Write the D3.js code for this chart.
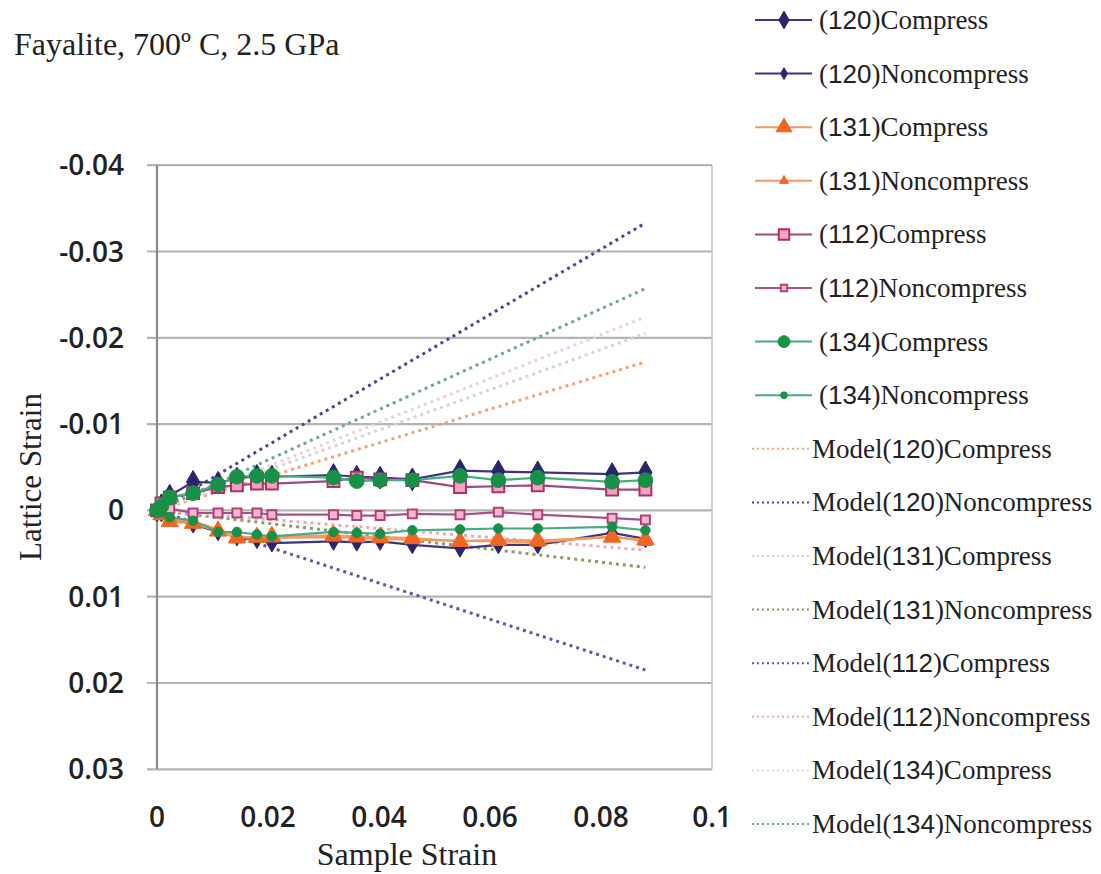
<!DOCTYPE html>
<html><head><meta charset="utf-8">
<script src="https://cdn.jsdelivr.net/npm/d3@7"></script>
<style>html,body{margin:0;padding:0;background:#fff;}svg{display:block;}</style>
</head><body>
<svg id="c" width="1101" height="874"></svg>
<script>
// ---------- DATA ----------
const sampleStrain = [0, 0.0008, 0.0023, 0.0065, 0.011, 0.0144, 0.018, 0.0207, 0.0318, 0.036, 0.0402, 0.046, 0.0546, 0.0615, 0.0686, 0.082, 0.088];
const c120 = [0, -0.0006, -0.0017, -0.0033, -0.0032, -0.0037, -0.0040, -0.0039, -0.0041, -0.0039, -0.0038, -0.0036, -0.0046, -0.0045, -0.0044, -0.0042, -0.0044];
const n120 = [0, 0.0003, 0.0009, 0.0016, 0.0025, 0.0031, 0.0034, 0.0038, 0.0036, 0.0037, 0.0036, 0.0040, 0.0044, 0.0040, 0.0040, 0.0026, 0.0033];
const c131 = [0, 0.0005, 0.0013, 0.0015, 0.0024, 0.0032, 0.0031, 0.0030, 0.0029, 0.0030, 0.0031, 0.0032, 0.0036, 0.0034, 0.0035, 0.0031, 0.0034];
const n131 = [0, 0.0006, 0.0010, 0.0013, 0.0022, 0.0030, 0.0032, 0.0032, 0.0031, 0.0032, 0.0033, 0.0034, 0.0035, 0.0036, 0.0037, 0.0030, 0.0036];
const c112 = [0, -0.0008, -0.0015, -0.0020, -0.0027, -0.0029, -0.0031, -0.0031, -0.0034, -0.0038, -0.0036, -0.0035, -0.0027, -0.0028, -0.0029, -0.0024, -0.0024];
const n112 = [0, -0.0003, -0.0002, 0.0003, 0.0003, 0.0003, 0.0003, 0.0005, 0.0005, 0.0006, 0.0006, 0.0004, 0.0005, 0.0002, 0.0005, 0.0009, 0.0011];
const c134 = [0, -0.0005, -0.0015, -0.0020, -0.0030, -0.0039, -0.0040, -0.0040, -0.0038, -0.0034, -0.0035, -0.0035, -0.0040, -0.0035, -0.0038, -0.0033, -0.0035];
const n134 = [0, 0.0002, 0.0008, 0.0012, 0.0025, 0.0025, 0.0028, 0.0030, 0.0025, 0.0026, 0.0027, 0.0023, 0.0022, 0.0021, 0.0021, 0.0019, 0.0023];

// model lines: start and end points
const modelX = [0, 0.088];
const m120c = [0, -0.0172];
const m120n = [0, -0.0333];
const m131c = [0, -0.0205];
const m131n = [0, 0.0066];
const m112c = [0, 0.0185];
const m112n = [0, 0.0046];
const m134c = [0, -0.0224];
const m134n = [0, -0.0257];

const yTicks = [-0.04, -0.03, -0.02, -0.01, 0, 0.01, 0.02, 0.03];
const yTickLabels = ["-0.04", "-0.03", "-0.02", "-0.01", "0", "0.01", "0.02", "0.03"];
const xTicks = [0, 0.02, 0.04, 0.06, 0.08, 0.1];
const xTickLabels = ["0", "0.02", "0.04", "0.06", "0.08", "0.1"];

const title = "Fayalite, 700º C, 2.5 GPa";
const xTitle = "Sample Strain";
const yTitle = "Lattice Strain";

// ---------- SERIES STYLE ----------
const dataSeries = [
  {hkl:"120", kind:"Compress", v:c120, line:"#3b3584", fill:"#2b2570", stroke:"#2b2570", shape:d3.symbolDiamond, size:150, lsize:90},
  {hkl:"120", kind:"Noncompress", v:n120, line:"#3b3584", fill:"#2b2570", stroke:"#2b2570", shape:d3.symbolDiamond, size:90, lsize:40},
  {hkl:"131", kind:"Compress", v:c131, line:"#f59a5e", fill:"#f26522", stroke:"#f26522", shape:d3.symbolTriangle, size:130, lsize:110},
  {hkl:"131", kind:"Noncompress", v:n131, line:"#f59a5e", fill:"#f26522", stroke:"#f26522", shape:d3.symbolTriangle, size:80, lsize:35},
  {hkl:"112", kind:"Compress", v:c112, line:"#9b4a7c", fill:"#f3a1c4", stroke:"#b0305f", shape:d3.symbolSquare, size:140, lsize:110},
  {hkl:"112", kind:"Noncompress", v:n112, line:"#a65384", fill:"#f6b6d0", stroke:"#b0407a", shape:d3.symbolSquare, size:80, lsize:40},
  {hkl:"134", kind:"Compress", v:c134, line:"#48ab86", fill:"#179147", stroke:"#179147", shape:d3.symbolCircle, size:170, lsize:110},
  {hkl:"134", kind:"Noncompress", v:n134, line:"#48ab86", fill:"#179147", stroke:"#179147", shape:d3.symbolCircle, size:70, lsize:35}
];
const modelSeries = [
  {hkl:"120", kind:"Compress", v:m120c, color:"#f7a272"},
  {hkl:"120", kind:"Noncompress", v:m120n, color:"#4a4790"},
  {hkl:"131", kind:"Compress", v:m131c, color:"#d4d4d4"},
  {hkl:"131", kind:"Noncompress", v:m131n, color:"#8f9a6a"},
  {hkl:"112", kind:"Compress", v:m112c, color:"#5a58b0"},
  {hkl:"112", kind:"Noncompress", v:m112n, color:"#f2a8b0"},
  {hkl:"134", kind:"Compress", v:m134c, color:"#f1d2d2"},
  {hkl:"134", kind:"Noncompress", v:m134n, color:"#6fa890"}
];

// ---------- DRAW ----------
const svg = d3.select("#c");
const x = d3.scaleLinear().domain([0, 0.1]).range([157, 712]);
const y = d3.scaleLinear().domain([-0.04, 0.03]).range([165.2, 769.3]);

const serif = "'Liberation Serif','Times New Roman',serif";
const sans = "'Open Sans','Liberation Sans',sans-serif";

// gridlines
svg.append("g").selectAll("line").data(yTicks).join("line")
  .attr("x1", x(0) - 10).attr("x2", x(0.1))
  .attr("y1", d => y(d)).attr("y2", d => y(d))
  .attr("stroke", "#b4b4b4").attr("stroke-width", 2.2);
// left axis & right border
svg.append("line").attr("x1", x(0)).attr("x2", x(0)).attr("y1", y(-0.04)).attr("y2", y(0.03))
  .attr("stroke", "#8a8a8a").attr("stroke-width", 2.2);
svg.append("line").attr("x1", x(0.1)).attr("x2", x(0.1)).attr("y1", y(-0.04)).attr("y2", y(0.03))
  .attr("stroke", "#c4c4c4").attr("stroke-width", 1.5);

// y tick labels
svg.append("g").selectAll("text").data(yTicks).join("text")
  .attr("x", 124).attr("y", d => y(d)).attr("dy", "0.36em")
  .attr("text-anchor", "end").attr("font-family", sans).attr("font-size", 28).attr("font-weight", 600)
  .attr("fill", "#222").text((d, i) => yTickLabels[i]);
// x tick labels
svg.append("g").selectAll("text").data(xTicks).join("text")
  .attr("x", d => x(d)).attr("y", 827)
  .attr("text-anchor", "middle").attr("font-family", sans).attr("font-size", 28).attr("font-weight", 600)
  .attr("fill", "#222").text((d, i) => xTickLabels[i]);

// titles
svg.append("text").attr("x", 14).attr("y", 55).attr("font-family", serif).attr("font-size", 32)
  .attr("fill", "#222").text(title);
svg.append("text").attr("x", 407).attr("y", 865).attr("text-anchor", "middle")
  .attr("font-family", serif).attr("font-size", 32).attr("fill", "#222").text(xTitle);
svg.append("text").attr("transform", "translate(41,477) rotate(-90)").attr("text-anchor", "middle")
  .attr("font-family", serif).attr("font-size", 31).attr("fill", "#222").text(yTitle);

// model lines
const line = d3.line().x(d => x(d[0])).y(d => y(d[1]));
const gm = svg.append("g");
modelSeries.forEach(s => {
  const pts = modelX.map((xv, i) => [xv, s.v[i]]);
  gm.append("path").attr("d", line(pts)).attr("fill", "none")
    .attr("stroke", s.color).attr("stroke-width", 3).attr("stroke-dasharray", "3,4");
});

// data lines & markers
const gd = svg.append("g");
dataSeries.forEach(s => {
  const pts = sampleStrain.map((xv, i) => [xv, s.v[i]]);
  gd.append("path").attr("d", line(pts)).attr("fill", "none")
    .attr("stroke", s.line).attr("stroke-width", 2.2);
});
dataSeries.forEach(s => {
  const pts = sampleStrain.map((xv, i) => [xv, s.v[i]]);
  const sym = d3.symbol().type(s.shape).size(s.size);
  gd.append("g").selectAll("path").data(pts).join("path")
    .attr("transform", d => `translate(${x(d[0])},${y(d[1])})`)
    .attr("d", sym).attr("fill", s.fill).attr("stroke", s.stroke).attr("stroke-width", s.shape === d3.symbolSquare ? 2 : 1);
});

// legend
const lg = svg.append("g");
const ly0 = 20, lstep = 53.6;
function legendLabel(t, xPos, yPos, prefix, hkl, kind) {
  const tx = t.append("text").attr("x", xPos).attr("y", yPos).attr("dy", "0.33em")
    .attr("font-family", serif).attr("font-size", 27).attr("fill", "#222");
  tx.append("tspan").text(prefix + "(");
  tx.append("tspan").attr("font-family", "'Liberation Sans',Arial,sans-serif").attr("font-size", 26).text(hkl);
  tx.append("tspan").text(")" + kind);
}
dataSeries.forEach((s, i) => {
  const yy = ly0 + i * lstep;
  lg.append("line").attr("x1", 755).attr("x2", 812).attr("y1", yy).attr("y2", yy)
    .attr("stroke", s.line).attr("stroke-width", 2);
  lg.append("path").attr("transform", `translate(784,${yy})`)
    .attr("d", d3.symbol().type(s.shape).size(s.lsize)).attr("fill", s.fill).attr("stroke", s.stroke)
    .attr("stroke-width", s.shape === d3.symbolSquare ? 2 : 1);
  legendLabel(lg, 819, yy, "", s.hkl, s.kind);
});
modelSeries.forEach((s, i) => {
  const yy = ly0 + (i + 8) * lstep;
  lg.append("line").attr("x1", 752).attr("x2", 811).attr("y1", yy).attr("y2", yy)
    .attr("stroke", s.color).attr("stroke-width", 2).attr("stroke-dasharray", "2,3");
  legendLabel(lg, 812, yy, "Model", s.hkl, s.kind);
});
</script>
</body></html>
